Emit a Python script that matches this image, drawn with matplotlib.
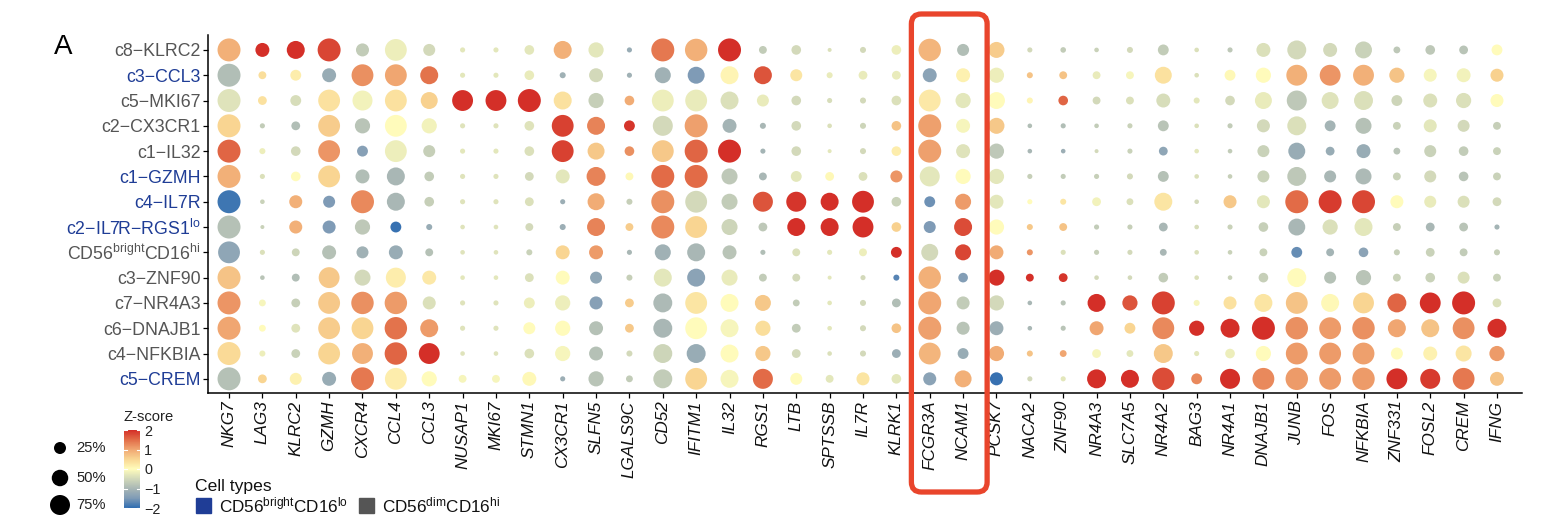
import numpy as np
import matplotlib
matplotlib.use('Agg')
import matplotlib.pyplot as plt
from matplotlib.colors import LinearSegmentedColormap, Normalize
from matplotlib.patches import FancyBboxPatch, Rectangle

plt.rcParams['font.family'] = ['Liberation Sans', 'DejaVu Sans']
plt.rcParams['mathtext.fontset'] = 'custom'
plt.rcParams['mathtext.rm'] = 'Liberation Sans'
plt.rcParams['mathtext.it'] = 'Liberation Sans:italic'

# ---------------- data ----------------
genes = ['NKG7', 'LAG3', 'KLRC2', 'GZMH', 'CXCR4', 'CCL4', 'CCL3', 'NUSAP1', 'MKI67', 'STMN1',
         'CX3CR1', 'SLFN5', 'LGALS9C', 'CD52', 'IFITM1', 'IL32', 'RGS1', 'LTB', 'SPTSSB', 'IL7R',
         'KLRK1', 'FCGR3A', 'NCAM1', 'PCSK7', 'NACA2', 'ZNF90', 'NR4A3', 'SLC7A5', 'NR4A2', 'BAG3',
         'NR4A1', 'DNAJB1', 'JUNB', 'FOS', 'NFKBIA', 'ZNF331', 'FOSL2', 'CREM', 'IFNG']

clusters = ['c8\u2212KLRC2', 'c3\u2212CCL3', 'c5\u2212MKI67', 'c2\u2212CX3CR1', 'c1\u2212IL32',
            'c1\u2212GZMH', 'c4\u2212IL7R', 'c2\u2212IL7R\u2212RGS1$^{\\mathregular{lo}}$',
            'CD56$^{\\mathregular{bright}}$CD16$^{\\mathregular{hi}}$', 'c3\u2212ZNF90',
            'c7\u2212NR4A3', 'c6\u2212DNAJB1', 'c4\u2212NFKBIA', 'c5\u2212CREM']

cell_type = ['dim', 'bright', 'dim', 'dim', 'dim', 'bright', 'bright', 'bright',
             'dim', 'dim', 'dim', 'dim', 'dim', 'bright']

# percent of cells expressing (rows = clusters, cols = genes)
pct = [
    [100, 35, 60, 100, 30, 90, 25, 2, 2, 15, 60, 42, 2, 100, 95, 100, 9, 15, 0, 4, 15, 95, 25, 47, 2, 3, 1, 4, 20, 1, 2, 35, 67, 35, 53, 6, 15, 12, 20],
    [100, 9, 20, 35, 90, 90, 60, 2, 2, 15, 4, 35, 2, 47, 53, 60, 60, 25, 4, 12, 12, 35, 35, 42, 4, 9, 9, 9, 53, 1, 20, 42, 82, 82, 82, 42, 30, 35, 30],
    [100, 12, 20, 90, 75, 90, 53, 82, 82, 100, 60, 42, 15, 90, 90, 60, 25, 15, 2, 4, 15, 90, 42, 53, 4, 15, 9, 9, 35, 4, 15, 53, 75, 53, 67, 20, 35, 42, 30],
    [100, 2, 12, 90, 42, 90, 42, 2, 2, 15, 90, 60, 20, 75, 100, 35, 4, 15, 1, 4, 15, 100, 35, 47, 1, 2, 1, 2, 20, 1, 2, 30, 67, 20, 47, 9, 30, 25, 9],
    [100, 4, 15, 90, 20, 90, 25, 2, 2, 15, 90, 53, 15, 90, 100, 100, 2, 15, 0, 4, 15, 100, 35, 42, 1, 1, 0, 2, 12, 1, 1, 25, 53, 12, 35, 6, 25, 15, 9],
    [100, 2, 15, 90, 35, 60, 15, 2, 2, 12, 35, 67, 9, 100, 100, 47, 9, 20, 12, 12, 25, 75, 42, 42, 2, 2, 2, 4, 20, 1, 1, 25, 67, 25, 47, 9, 25, 15, 9],
    [100, 1, 30, 25, 100, 60, 15, 2, 2, 12, 2, 53, 4, 100, 90, 47, 75, 75, 60, 90, 15, 20, 47, 35, 2, 4, 12, 6, 60, 1, 30, 30, 100, 100, 100, 30, 25, 25, 12],
    [100, 0, 30, 30, 42, 20, 4, 1, 1, 9, 4, 60, 9, 100, 90, 47, 12, 60, 60, 82, 15, 25, 60, 42, 4, 9, 2, 2, 12, 1, 2, 15, 53, 42, 60, 9, 12, 12, 2],
    [90, 2, 9, 35, 25, 35, 9, 1, 1, 4, 35, 35, 2, 47, 60, 35, 2, 9, 2, 9, 20, 53, 47, 35, 4, 2, 2, 2, 6, 1, 1, 9, 20, 9, 15, 4, 12, 9, 4],
    [100, 1, 9, 82, 47, 75, 35, 1, 1, 12, 35, 25, 4, 60, 60, 47, 9, 9, 0, 2, 4, 95, 15, 47, 9, 12, 1, 1, 15, 1, 1, 15, 67, 25, 42, 9, 15, 25, 9],
    [100, 6, 12, 90, 95, 95, 30, 2, 2, 20, 42, 30, 12, 67, 90, 60, 47, 6, 1, 4, 12, 100, 30, 42, 1, 2, 60, 42, 100, 4, 30, 60, 90, 60, 82, 67, 82, 100, 12],
    [100, 6, 12, 90, 90, 95, 60, 2, 2, 25, 42, 35, 12, 67, 90, 60, 42, 12, 1, 4, 15, 100, 30, 35, 1, 2, 35, 20, 90, 42, 67, 100, 95, 90, 95, 60, 60, 90, 67],
    [100, 4, 12, 90, 82, 95, 82, 1, 1, 15, 42, 35, 4, 67, 67, 60, 42, 12, 1, 4, 12, 90, 20, 42, 4, 6, 12, 6, 67, 2, 15, 42, 90, 90, 90, 25, 35, 47, 42],
    [100, 12, 25, 35, 100, 90, 42, 9, 9, 35, 2, 42, 6, 67, 90, 60, 75, 25, 9, 30, 15, 30, 53, 30, 2, 2, 67, 60, 95, 20, 75, 90, 95, 90, 95, 82, 75, 90, 35],
]

# scaled expression (z-score)
zscore = [
    [0.9, 2, 2, 1.8, -0.7, -0.2, -0.5, -0.3, -0.3, -0.3, 0.9, -0.3, -1.2, 1.4, 0.9, 2, -0.7, -0.5, -0.4, -0.5, -0.2, 0.85, -0.9, 0.6, -0.5, -0.7, -0.6, -0.5, -0.7, -0.4, -0.75, -0.4, -0.5, -0.5, -0.6, -0.75, -0.75, -0.8, 0],
    [-0.9, 0.4, 0.2, -1.2, 1.2, 1.0, 1.45, -0.3, -0.3, -0.25, -1.1, -0.5, -1.1, -1.1, -1.5, 0.1, 1.7, 0.3, -0.25, -0.25, -0.25, -1.35, 0.15, -0.2, 0.7, 0.7, -0.25, -0.1, 0.35, -0.4, 0.05, 0, 0.9, 1.15, 0.9, 0.7, -0.1, -0.15, 0.55],
    [-0.35, 0.35, -0.45, 0.35, -0.15, 0.35, 0.55, 2, 2, 2, 0.35, -0.65, 0.95, -0.2, -0.25, -0.4, -0.25, -0.5, -0.45, -0.5, -0.4, 0.25, -0.3, 0, 0.1, 1.55, -0.5, -0.4, -0.45, -0.3, -0.5, -0.25, -0.75, -0.35, -0.4, -0.55, -0.4, -0.4, 0],
    [0.5, -0.7, -0.9, 0.6, -0.8, 0, -0.15, -0.35, -0.35, -0.35, 1.85, 1.3, 1.95, -0.5, 1.05, -1.05, -1.0, -0.5, -0.4, -0.55, 0.7, 1.05, -0.1, 0.65, -0.9, -0.9, -0.7, -0.6, -0.8, -0.4, -0.7, -0.5, -0.4, -1.05, -0.85, -0.6, -0.3, -0.5, -0.65],
    [1.55, -0.2, -0.5, 1.15, -1.4, -0.2, -0.65, -0.3, -0.3, -0.4, 1.85, 0.65, 1.2, 0.65, 1.55, 2, -1.05, -0.5, -0.3, -0.5, 0.2, 1.05, -0.35, -0.75, -1.0, -1.15, -0.5, -0.6, -1.3, -0.3, -0.7, -0.6, -1.2, -1.2, -1.2, -0.8, -0.6, -0.7, -0.6],
    [0.9, -0.4, 0, 0.5, -0.9, -1.0, -0.7, -0.35, -0.35, -0.5, -0.3, 1.3, 0.05, 1.5, 1.5, -0.75, -1.0, -0.3, 0.05, -0.4, 1.15, -0.3, 0, -0.3, -0.65, -0.7, -0.65, -0.5, -0.85, -0.4, -0.65, -0.6, -0.75, -1.0, -0.95, -0.6, -0.5, -0.8, -0.6],
    [-1.9, -0.6, 0.9, -1.5, 1.25, -1.0, -0.65, -0.35, -0.35, -0.4, -1.15, 0.95, -0.65, 1.2, -0.5, -0.7, 1.7, 1.95, 2, 2, -0.6, -1.6, 1.1, -0.3, 0, 0.3, -0.15, -0.4, 0.3, -0.5, 0.65, -0.3, 1.5, 1.9, 1.8, 0, -0.25, -0.4, -0.5],
    [-0.85, -0.6, 0.9, -1.5, -0.75, -1.95, -1.2, -0.35, -0.35, -0.5, -1.15, 1.3, 0.6, 1.25, 0.5, -0.55, -0.75, 2, 2, 2, 0.55, -1.5, 1.75, 0, 0.65, 0.7, -0.7, -0.65, -1.0, -0.45, -0.6, -0.65, -1.0, -0.4, -0.3, -0.65, -1.0, -0.8, -1.05],
    [-1.3, -0.4, -0.55, -0.85, -1.1, -1.2, -0.85, -0.35, -0.35, -0.6, 0.5, 1.1, -1.0, -1.1, -1.0, -0.8, -0.9, -0.4, -0.3, -0.2, 2, -0.5, 1.8, 0.95, 1.15, -0.4, -0.65, -0.5, -1.0, -0.4, -0.6, -0.6, -1.65, -1.05, -1.35, -0.65, -0.6, -0.7, -0.65],
    [0.7, -0.8, -0.9, 0.65, -0.5, 0.2, 0.25, -0.3, -0.3, -0.4, 0, -1.3, -0.65, -0.3, -1.35, -0.25, -0.7, -0.5, -0.3, -0.5, -1.75, 0.9, -1.45, 2, 2, 1.95, -0.5, -0.5, -0.7, -0.4, -0.6, -0.65, 0, -0.85, -0.8, -0.6, -0.6, -0.4, -0.6],
    [1.15, -0.1, -0.65, 0.65, 1.2, 1.1, -0.4, -0.35, -0.35, -0.2, -0.2, -1.4, 0.6, -0.95, 0.3, 0, 0.65, -0.7, -0.3, -0.5, -0.9, 1.0, -0.7, -0.5, -1.0, -0.8, 2, 1.7, 1.85, -0.1, 0.35, 0.3, 0.7, 0.05, 0.5, 1.55, 2, 2, -0.4],
    [1.0, 0, -0.35, 0.6, 0.5, 1.45, 1.1, -0.35, -0.35, 0, 0, -0.85, 0.65, -1.0, 0, -0.1, 0.4, -0.7, -0.3, -0.5, 0.7, 1.05, -0.8, -1.15, -1.0, -0.8, 1.0, 0.5, 1.25, 2, 2, 2, 1.2, 1.1, 1.2, 1.0, 0.7, 1.2, 2],
    [0.45, -0.2, -0.6, 0.5, 0.9, 1.55, 2, -0.35, -0.35, -0.4, -0.1, -0.85, -0.5, -0.55, -1.2, 0, 0.65, -0.5, -0.4, -0.5, -1.15, 0.85, -1.2, 0.95, 0.7, 1.0, -0.1, -0.3, 0.65, -0.3, -0.2, 0, 1.1, 1.1, 1.05, 0, 0.15, 0.3, 1.1],
    [-0.85, 0.5, 0.15, -1.2, 1.4, 0.2, 0, -0.1, -0.1, 0.05, -1.15, -0.8, -0.7, -0.7, 0.5, -0.1, 1.5, 0, -0.3, 0.3, -0.3, -1.35, 0.9, -1.95, -0.5, -0.3, 2, 2, 1.75, 1.25, 2, 1.25, 1.1, 1.1, 1.1, 2, 1.9, 1.4, 0.7],
]

size_breaks = [25, 50, 75]
z_ticks = [2, 1, 0, -1, -2]
highlight_genes = ['FCGR3A', 'NCAM1']

# ---------------- style ----------------
W, H = 1542, 516
type_colors = {'bright': '#1f3d96', 'dim': '#555555'}
cmap = LinearSegmentedColormap.from_list('zs', [
    (0.000, '#2f6db1'), (0.125, '#7f9bb6'), (0.250, '#a9b7b5'), (0.375, '#d2d9ba'),
    (0.500, '#fffcbc'), (0.625, '#f9d693'), (0.750, '#f0a772'), (0.875, '#e26d48'),
    (1.000, '#d42f28')])
norm = Normalize(-2, 2)


def dot_area(p):
    d_px = np.sqrt(16 + 5.12 * np.asarray(p, dtype=float))
    return (d_px * 72.0 / 100.0) ** 2


pct_arr = np.array(pct, dtype=float)
z_arr = np.array(zscore, dtype=float)
nr, nc = pct_arr.shape
assert nc == len(genes) and nr == len(clusters)

fig = plt.figure(figsize=(W / 100, H / 100), dpi=100)
ax_l, ax_r, ax_t, ax_b = 208, 1522, 35, 393
ax = fig.add_axes([ax_l / W, 1 - ax_b / H, (ax_r - ax_l) / W, (ax_b - ax_t) / H])

xx, yy = np.meshgrid(np.arange(nc), np.arange(nr))
sc = ax.scatter(xx.ravel(), yy.ravel(), s=dot_area(pct_arr.ravel()), c=z_arr.ravel(),
                cmap=cmap, norm=norm, linewidths=0, zorder=3)

xlim = (-0.63, 38.75)
ylim = (13.56, -0.59)
ax.set_xlim(*xlim)
ax.set_ylim(*ylim)
for s in ['top', 'right']:
    ax.spines[s].set_visible(False)
for s in ['left', 'bottom']:
    ax.spines[s].set_linewidth(1.1)
ax.set_xticks(np.arange(nc))
ax.set_xticklabels(genes, rotation=90, fontstyle='italic', fontsize=12.3, color='#111111')
ax.set_yticks(np.arange(nr))
ax.set_yticklabels(clusters, fontsize=12.8)
for lab, t in zip(ax.get_yticklabels(), cell_type):
    lab.set_color(type_colors[t])
ax.tick_params(axis='both', length=3.6, width=0.9, pad=1.8)

# ---------------- overlay (pixel coordinates) ----------------
ov = fig.add_axes([0, 0, 1, 1], zorder=5)
ov.set_xlim(0, W)
ov.set_ylim(H, 0)
ov.axis('off')


def col_to_px(i):
    return ax_l + (i - xlim[0]) / (xlim[1] - xlim[0]) * (ax_r - ax_l)


i0 = genes.index(highlight_genes[0])
i1 = genes.index(highlight_genes[1])
bx0 = col_to_px(i0 - 0.55)
bx1 = col_to_px(i1 + 0.72)
box = FancyBboxPatch((bx0, 14), bx1 - bx0, 478, boxstyle='round,pad=0,rounding_size=10',
                     fill=False, edgecolor='#e9452c', linewidth=3.8)
ov.add_patch(box)

ov.text(54, 47, 'A', fontsize=20, va='center', ha='left', color='black')

# size legend
ys = [448, 478, 505]
ov.scatter([60] * 3, ys, s=dot_area(size_breaks), color='black', linewidths=0)
for y, b in zip(ys, size_breaks):
    ov.text(76, y, f'{b}%', fontsize=10.6, va='center', ha='left', color='#222222')

# colour legend
ov.text(123, 417, 'Z-score', fontsize=10.6, va='center', ha='left', color='#222222')
cb_top, cb_bot = 430, 508
cax = fig.add_axes([124 / W, 1 - cb_bot / H, 16 / W, (cb_bot - cb_top) / H])
cb = fig.colorbar(sc, cax=cax, ticks=z_ticks)
cb.outline.set_visible(False)
cb.ax.tick_params(length=0, labelsize=10.4, pad=3, labelcolor='#222222')
for t in z_ticks:
    cb.ax.plot([0, 0.2], [t, t], color='white', lw=0.8, transform=cb.ax.get_yaxis_transform())
    cb.ax.plot([0.8, 1.0], [t, t], color='white', lw=0.8, transform=cb.ax.get_yaxis_transform())

# cell type legend
ov.text(195, 486, 'Cell types', fontsize=12.6, va='center', ha='left', color='#111111')
ov.add_patch(Rectangle((196, 498), 15, 15, color=type_colors['bright']))
ov.text(219, 505, 'CD56$^{\\mathregular{bright}}$CD16$^{\\mathregular{lo}}$', fontsize=12.3,
        va='center', ha='left', color='#111111')
ov.add_patch(Rectangle((359, 498), 15, 15, color=type_colors['dim']))
ov.text(382, 505, 'CD56$^{\\mathregular{dim}}$CD16$^{\\mathregular{hi}}$', fontsize=12.3,
        va='center', ha='left', color='#111111')

fig.savefig('out.png', dpi=100)
